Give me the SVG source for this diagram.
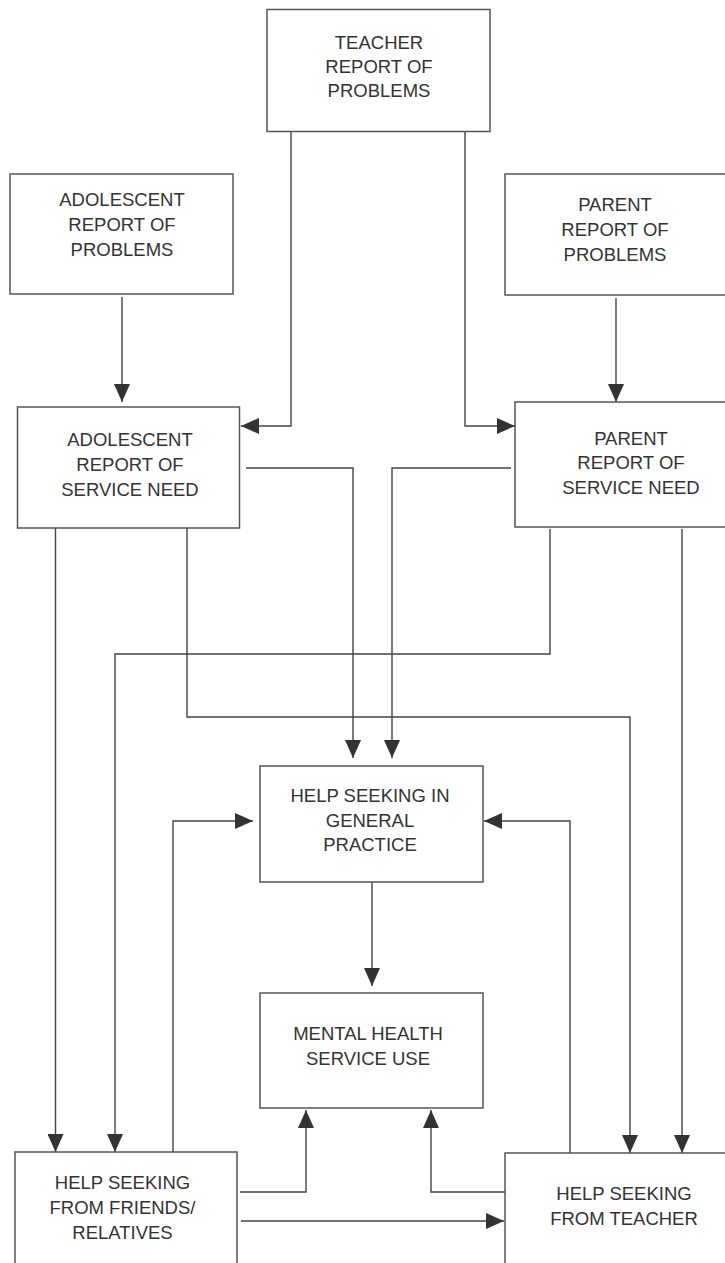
<svg xmlns="http://www.w3.org/2000/svg" width="725" height="1263" viewBox="0 0 725 1263">
<defs>
<style>
.box{fill:#fff;stroke:#555;stroke-width:1.5}
.t{font-family:"Liberation Sans",Arial,sans-serif;font-size:18.5px;fill:#333;text-anchor:middle}
.c{fill:none;stroke:#444;stroke-width:1.4;marker-end:url(#ah)}
</style>
<marker id="ah" viewBox="0 0 18 16" refX="18" refY="8" markerWidth="18" markerHeight="16" markerUnits="userSpaceOnUse" orient="auto" preserveAspectRatio="none">
<path d="M0,0 L18,8 L0,16 Z" fill="#333"/>
</marker>
</defs>
<rect width="725" height="1263" fill="#fff"/>
<g id="connectors">
<path class="c" d="M122,297 V402"/>
<path class="c" d="M291,131 V426 H241"/>
<path class="c" d="M465,131 V426 H515"/>
<path class="c" d="M616,298 V402"/>
<path class="c" d="M246,468 H353 V758"/>
<path class="c" d="M511,468 H392 V758"/>
<path class="c" d="M55.5,528 V1152"/>
<path class="c" d="M187,528 V717 H630 V1153"/>
<path class="c" d="M550,529 V654 H115 V1152"/>
<path class="c" d="M682,529 V1153"/>
<path class="c" d="M173,1152 V821 H253"/>
<path class="c" d="M570,1153 V821 H484"/>
<path class="c" d="M372,882 V986"/>
<path class="c" d="M240,1192 H306 V1110"/>
<path class="c" d="M241,1221 H504"/>
<path class="c" d="M505,1192 H431 V1110"/>
</g>
<g id="teacher-problems">
<rect class="box" x="267" y="9.5" width="223" height="122"/>
<text class="t" x="379" y="48.5">TEACHER</text>
<text class="t" x="379" y="72.5">REPORT OF</text>
<text class="t" x="379" y="96.5">PROBLEMS</text>
</g>
<g id="adolescent-problems">
<rect class="box" x="10" y="174" width="223" height="120"/>
<text class="t" x="122" y="205.5">ADOLESCENT</text>
<text class="t" x="122" y="230.5">REPORT OF</text>
<text class="t" x="122" y="255.5">PROBLEMS</text>
</g>
<g id="parent-problems">
<rect class="box" x="505" y="174" width="240" height="121"/>
<text class="t" x="615" y="210.5">PARENT</text>
<text class="t" x="615" y="235.5">REPORT OF</text>
<text class="t" x="615" y="261">PROBLEMS</text>
</g>
<g id="adolescent-need">
<rect class="box" x="17.5" y="407" width="222" height="121"/>
<text class="t" x="130" y="445.5">ADOLESCENT</text>
<text class="t" x="130" y="470.5">REPORT OF</text>
<text class="t" x="130" y="495.5">SERVICE NEED</text>
</g>
<g id="parent-need">
<rect class="box" x="515" y="402" width="230" height="125"/>
<text class="t" x="631" y="444.5">PARENT</text>
<text class="t" x="631" y="468.5">REPORT OF</text>
<text class="t" x="631" y="493.5">SERVICE NEED</text>
</g>
<g id="general-practice">
<rect class="box" x="260" y="766" width="223" height="116"/>
<text class="t" x="370" y="801.5">HELP SEEKING IN</text>
<text class="t" x="370" y="826.5">GENERAL</text>
<text class="t" x="370" y="850.5">PRACTICE</text>
</g>
<g id="mental-health">
<rect class="box" x="260" y="993" width="223" height="115"/>
<text class="t" x="368" y="1039.5">MENTAL HEALTH</text>
<text class="t" x="368" y="1064.5">SERVICE USE</text>
</g>
<g id="friends">
<rect class="box" x="15" y="1152" width="222" height="130"/>
<text class="t" x="122.5" y="1188.5">HELP SEEKING</text>
<text class="t" x="122.5" y="1213.5">FROM FRIENDS/</text>
<text class="t" x="122.5" y="1238.5">RELATIVES</text>
</g>
<g id="teacher-help">
<rect class="box" x="505" y="1153" width="240" height="130"/>
<text class="t" x="624" y="1199.5">HELP SEEKING</text>
<text class="t" x="624" y="1224.5">FROM TEACHER</text>
</g>
</svg>
